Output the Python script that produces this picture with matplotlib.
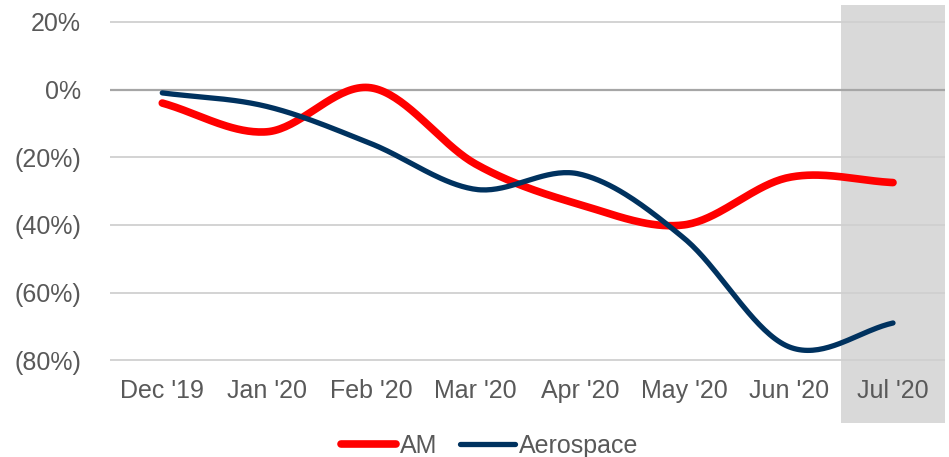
import numpy as np
import matplotlib
matplotlib.use('Agg')
import matplotlib.pyplot as plt
from matplotlib.lines import Line2D

plt.rcParams['font.family'] = ['Liberation Sans', 'DejaVu Sans']

months = ["Dec '19", "Jan '20", "Feb '20", "Mar '20", "Apr '20", "May '20", "Jun '20", "Jul '20"]
am = [-4, -12.5, 0.5, -22, -34, -40, -26, -27.5]
aerospace = [-1, -5, -16, -29.5, -25, -44, -76, -69]
y_ticks = [20, 0, -20, -40, -60, -80]
y_labels = ["20%", "0%", "(20%)", "(40%)", "(60%)", "(80%)"]

RED = '#FF0000'
NAVY = '#00325F'
GREY_TXT = '#595959'
FS = 18


def smooth(xs, ys, n=40):
    # Catmull-Rom curve through the points (same look as spreadsheet smoothed lines)
    xs = np.asarray(xs, float)
    ys = np.asarray(ys, float)
    px = np.concatenate([[2 * xs[0] - xs[1]], xs, [2 * xs[-1] - xs[-2]]])
    py = np.concatenate([[2 * ys[0] - ys[1]], ys, [2 * ys[-1] - ys[-2]]])
    out_x, out_y = [], []
    t = np.linspace(0, 1, n)
    for i in range(1, len(px) - 2):
        p0, p1, p2, p3 = [np.array([px[j], py[j]]) for j in range(i - 1, i + 3)]
        c1 = p1 + (p2 - p0) / 6
        c2 = p2 - (p3 - p1) / 6
        seg = ((1 - t) ** 3)[:, None] * p1 + (3 * (1 - t) ** 2 * t)[:, None] * c1 \
            + (3 * (1 - t) * t ** 2)[:, None] * c2 + (t ** 3)[:, None] * p2
        out_x.extend(seg[:, 0])
        out_y.extend(seg[:, 1])
    return np.array(out_x), np.array(out_y)


fig = plt.figure(figsize=(9.49, 4.57), dpi=100)
ax = fig.add_axes([0.116, 0.197, 0.880, 0.770])

x = np.arange(len(months))

# shaded latest month
ax.axvspan(6.5, 7.5, ymin=-0.16, ymax=1.029, color='#D9D9D9', zorder=0, clip_on=False, lw=0)

for yv in y_ticks:
    ax.axhline(yv, color='#A6A6A6' if yv == 0 else '#D0D0D0', lw=1.6 if yv == 0 else 1.3, zorder=1)

sx, sy = smooth(x, am)
ax.plot(sx, sy, color=RED, lw=5.5, solid_capstyle='round', zorder=3)
sx, sy = smooth(x, aerospace)
ax.plot(sx, sy, color=NAVY, lw=3.8, solid_capstyle='round', zorder=3)

ax.set_xlim(-0.5, 7.5)
ax.set_ylim(-82, 22)
ax.set_yticks(y_ticks)
ax.set_yticklabels(y_labels)
ax.set_xticks(x)
ax.set_xticklabels(months)
ax.tick_params(length=0, labelsize=FS, colors=GREY_TXT)
ax.tick_params(axis='y', pad=21)
ax.tick_params(axis='x', pad=9)
for s in ax.spines.values():
    s.set_visible(False)
ax.patch.set_alpha(0)

handles = [Line2D([], [], color=RED, lw=5.5, solid_capstyle='round'),
           Line2D([], [], color=NAVY, lw=3.8, solid_capstyle='round')]
fig.legend(handles, ['AM', 'Aerospace'], loc='center', bbox_to_anchor=(0.516, 0.024),
           ncol=2, frameon=False, fontsize=FS, labelcolor=GREY_TXT,
           handlelength=2.2, handletextpad=0.15, columnspacing=0.9,
           borderpad=0, borderaxespad=0)

fig.savefig('out.png', dpi=100)
